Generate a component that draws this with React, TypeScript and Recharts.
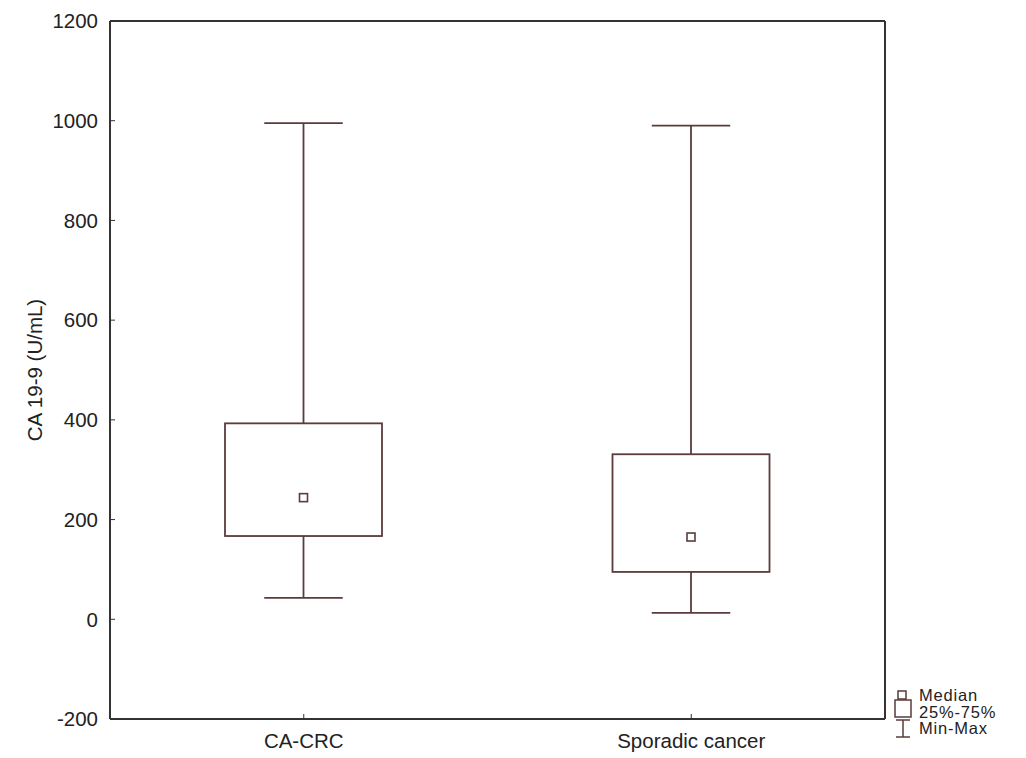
import React from "react";
import {
  ComposedChart,
  Bar,
  XAxis,
  YAxis,
  CartesianGrid,
  ReferenceLine,
} from "recharts";

const categories = ["CA-CRC", "Sporadic cancer"];
const minValues = [43, 13];
const q1Values = [167, 95];
const medianValues = [244, 165];
const q3Values = [393, 331];
const maxValues = [995, 990];
const yTicks = [-200, 0, 200, 400, 600, 800, 1000, 1200];

const data = categories.map((name, i) => ({
  name,
  range: [minValues[i], maxValues[i]],
  min: minValues[i],
  q1: q1Values[i],
  median: medianValues[i],
  q3: q3Values[i],
  max: maxValues[i],
}));

const BOX_COLOR = "#5b3b3b";
const AXIS_COLOR = "#333333";
const FONT = "'Liberation Sans', Arial, sans-serif";

const BoxShape = (props: any) => {
  const { x, y, width, height, payload } = props;
  if (!payload || height == null) return null;
  const span = payload.max - payload.min;
  const k = span ? height / span : 0;
  const py = (v: number) => y + (payload.max - v) * k;
  const cx = x + width / 2;
  const capHalf = width / 4;
  const yMax = py(payload.max);
  const yMin = py(payload.min);
  const yQ1 = py(payload.q1);
  const yQ3 = py(payload.q3);
  const yMed = py(payload.median);
  const sw = 1.8;
  return (
    <g>
      <line x1={cx} x2={cx} y1={yMax} y2={yQ3} stroke={BOX_COLOR} strokeWidth={sw} />
      <line x1={cx} x2={cx} y1={yQ1} y2={yMin} stroke={BOX_COLOR} strokeWidth={sw} />
      <line x1={cx - capHalf} x2={cx + capHalf} y1={yMax} y2={yMax} stroke={BOX_COLOR} strokeWidth={sw} />
      <line x1={cx - capHalf} x2={cx + capHalf} y1={yMin} y2={yMin} stroke={BOX_COLOR} strokeWidth={sw} />
      <rect x={x} y={yQ3} width={width} height={yQ1 - yQ3} fill="none" stroke={BOX_COLOR} strokeWidth={sw} />
      <rect x={cx - 4} y={yMed - 4} width={8} height={8} fill="#fff" stroke={BOX_COLOR} strokeWidth={1.6} />
    </g>
  );
};

const LegendBox = () => (
  <svg
    width={140}
    height={60}
    style={{ position: "absolute", left: 880, top: 676, overflow: "visible" }}
  >
    <g
      transform="translate(-880,-676)"
      fontFamily={FONT}
      fontSize={16.5}
      letterSpacing={0.8}
      fill="#222"
    >
      <rect x={890} y={683} width={8} height={8} fill="#fff" stroke={BOX_COLOR} strokeWidth={1.5} />
      <text x={911} y={687} dominantBaseline="central">Median</text>
      <rect x={887} y={692} width={16} height={17} fill="#fff" stroke={BOX_COLOR} strokeWidth={1.5} />
      <text x={911} y={703.5} dominantBaseline="central">25%-75%</text>
      <line x1={895} x2={895} y1={712} y2={729} stroke={BOX_COLOR} strokeWidth={1.5} />
      <line x1={888} x2={902} y1={712} y2={712} stroke={BOX_COLOR} strokeWidth={1.5} />
      <line x1={888} x2={902} y1={729} y2={729} stroke={BOX_COLOR} strokeWidth={1.5} />
      <text x={911} y={720} dominantBaseline="central">Min-Max</text>
    </g>
  </svg>
);

export default function App() {
  return (
    <div style={{ position: "relative", width: 1010, height: 750, fontFamily: FONT }}>
      <ComposedChart
        width={1010}
        height={750}
        data={data}
        margin={{ top: 13, right: 132, bottom: 9, left: 12 }}
        barSize={157}
      >
        <CartesianGrid vertical={false} stroke="#d9d9d9" strokeWidth={1} />
        <XAxis
          dataKey="name"
          height={30}
          axisLine={{ stroke: AXIS_COLOR, strokeWidth: 2 }}
          tickLine={{ stroke: AXIS_COLOR, strokeWidth: 1 }}
          tickSize={-5}
          tickMargin={19}
          tick={{ fill: "#222", fontSize: 20.5, fontFamily: FONT }}
        />
        <YAxis
          yAxisId="left"
          width={90}
          domain={[-200, 1200]}
          ticks={yTicks}
          type="number"
          allowDataOverflow
          axisLine={{ stroke: AXIS_COLOR, strokeWidth: 2 }}
          tickLine={{ stroke: AXIS_COLOR, strokeWidth: 1 }}
          tickSize={-5}
          tickMargin={17}
          tick={{ fill: "#222", fontSize: 20.5, fontFamily: FONT }}
          label={{
            value: "CA 19-9 (U/mL)",
            angle: -90,
            position: "insideLeft",
            offset: 15,
            style: { textAnchor: "middle", fill: "#222", fontSize: 20.5, fontFamily: FONT },
          }}
        />
        <YAxis
          yAxisId="right"
          orientation="right"
          width={1}
          domain={[-200, 1200]}
          type="number"
          tick={false}
          tickLine={false}
          axisLine={{ stroke: AXIS_COLOR, strokeWidth: 2 }}
        />
        <ReferenceLine yAxisId="left" y={1200} stroke={AXIS_COLOR} strokeWidth={2} />
        <Bar
          yAxisId="left"
          dataKey="range"
          shape={<BoxShape />}
          isAnimationActive={false}
        />
      </ComposedChart>
      <LegendBox />
    </div>
  );
}
